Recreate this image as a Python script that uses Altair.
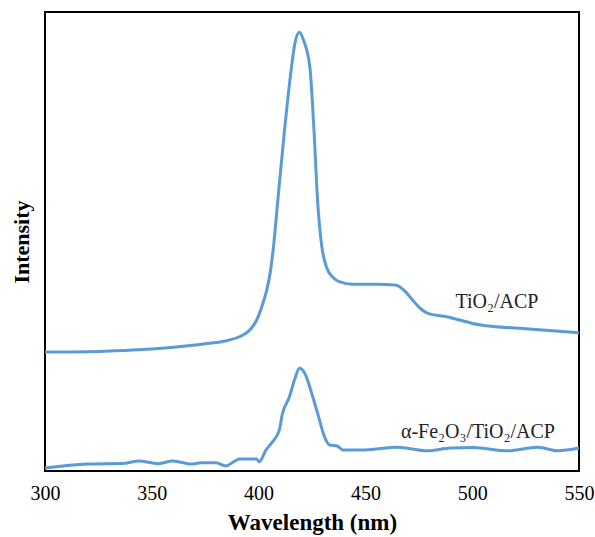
import altair as alt
import pandas as pd

# TiO2/ACP spectrum
tio2_wl = [300, 328, 344, 359, 375, 386, 391.3, 395.9, 399.1, 401.5, 403.8, 405.4, 407,
           409, 412, 415.4, 417, 419.1, 421, 424, 426, 427.6, 429.5, 431.8, 434.6, 438, 444,
           455, 464, 468, 472, 476, 479, 488, 504, 525, 550]
tio2_int = [25.9, 26.1, 26.4, 26.9, 27.7, 28.5, 29.3, 30.7, 32.9, 35.8, 39.4, 43.1, 49.0,
            59.0, 73.6, 88.0, 93.2, 95.6, 93.9, 88.0, 73.6, 59.0, 49.2, 44.4, 42.3, 41.2, 40.7,
            40.7, 40.5, 39.4, 37.3, 35.3, 34.4, 33.6, 31.8, 31.0, 30.1]

# alpha-Fe2O3/TiO2/ACP spectrum
fe_wl = [300, 320, 337.7, 343.8, 353, 360, 368.7, 373, 380, 384.7, 389, 391, 399, 400.3, 403.5,
         406.4, 409.7, 411, 414.4, 416.8, 419.1, 421.5, 424.8, 427.6, 430.9, 433.2, 437, 439.4,
         450, 464.8, 479, 489.7, 500.5, 516.6, 530.7, 540, 550]
fe_int = [0.65, 1.5, 1.7, 2.2, 1.6, 2.2, 1.5, 1.8, 1.8, 1.1, 2.2, 2.6, 2.6, 2.0, 4.6,
          6.3, 8.9, 12.2, 16.1, 19.8, 22.4, 21.4, 17.0, 12.6, 7.4, 5.7, 5.4, 4.6,
          4.6, 5.2, 4.4, 5.0, 5.1, 4.4, 5.2, 4.4, 5.0]

label_text = ["TiO₂/ACP", "α-Fe₂O₃/TiO₂/ACP"]
label_wl = [511.6, 502.7]
label_int = [36.8, 8.5]

x_ticks = [300, 350, 400, 450, 500, 550]

df = pd.concat([
    pd.DataFrame({"wl": tio2_wl, "int": tio2_int, "series": "TiO2/ACP"}),
    pd.DataFrame({"wl": fe_wl, "int": fe_int, "series": "Fe"}),
])
lab = pd.DataFrame({"wl": label_wl, "int": label_int, "text": label_text})

FONT = "Liberation Serif, Times New Roman, serif"

x = alt.X("wl:Q", scale=alt.Scale(domain=[300, 550], nice=False, zero=False),
          axis=alt.Axis(values=x_ticks, title="Wavelength (nm)", ticks=False, domain=False,
                        grid=False, labelFont=FONT, labelFontSize=20, labelColor="black",
                        labelFlush=False, labelOverlap=False,
                        labelPadding=12, titleFont=FONT, titleFontSize=23, titleFontWeight="bold",
                        titleColor="black", titlePadding=8))
y = alt.Y("int:Q", scale=alt.Scale(domain=[0, 100], nice=False),
          axis=alt.Axis(title="Intensity", labels=False, ticks=False, domain=False, grid=False,
                        titleFont=FONT, titleFontSize=22, titleFontWeight="bold",
                        titleColor="black", titlePadding=12))

lines = alt.Chart(df).mark_line(color="#5B9BD5", strokeWidth=3, interpolate="monotone").encode(
    x=x, y=y, detail="series:N")

texts = alt.Chart(lab).mark_text(font=FONT, fontSize=20, color="#222222").encode(
    x="wl:Q", y="int:Q", text="text:N")

chart = (lines + texts).properties(
    width=534, height=459,
    autosize=alt.AutoSizeParams(type="none"),
    padding={"left": 45, "top": 12, "right": 16, "bottom": 66},
    background="white",
).configure_view(stroke="black", strokeWidth=2)

chart.save("out.html", embed_options={"renderer": "svg", "actions": False})
